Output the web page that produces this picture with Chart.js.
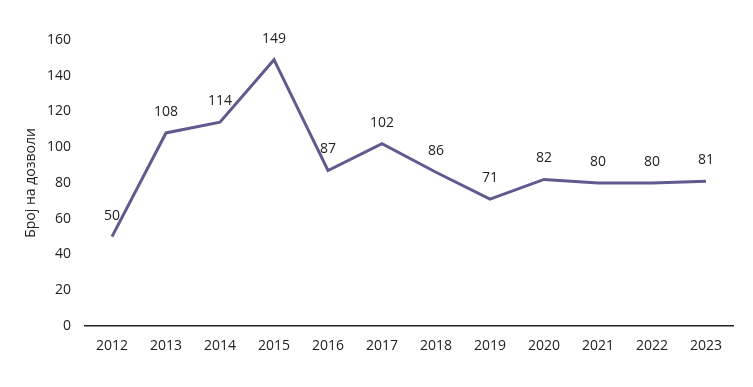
<!DOCTYPE html>
<html><head><meta charset="utf-8">
<script src="https://cdn.jsdelivr.net/npm/chart.js@4"></script>
<style>html,body{margin:0;padding:0;background:#fff}#wrap{width:753px;height:387px}</style>
</head><body><div id="wrap"><canvas id="c"></canvas></div>
<script>
const years = ['2012','2013','2014','2015','2016','2017','2018','2019','2020','2021','2022','2023'];
const permits = [50,108,114,149,87,102,86,71,82,80,80,81];
const yTitle = 'Број на дозволи';

const FONT = "'Open Sans', 'Liberation Sans', sans-serif";
const labelPlugin = {
  id: 'pointLabels',
  afterDatasetsDraw(chart) {
    const ctx = chart.ctx;
    const meta = chart.getDatasetMeta(0);
    ctx.save();
    ctx.font = '14px ' + FONT;
    ctx.fillStyle = '#222';
    ctx.textAlign = 'center';
    ctx.textBaseline = 'middle';
    meta.data.forEach((pt, i) => {
      ctx.fillText(String(permits[i]), pt.x, pt.y - 21);
    });
    ctx.restore();
  }
};

new Chart(document.getElementById('c'), {
  type: 'line',
  data: { labels: years, datasets: [{ data: permits, borderColor: '#5F5B8F', borderWidth: 3, pointRadius: 0, tension: 0, fill: false }] },
  options: {
    responsive: true, maintainAspectRatio: false, animation: false,
    layout: { padding: { left: 0, right: 20, top: 40, bottom: 0 } },
    plugins: { legend: { display: false }, tooltip: { enabled: false } },
    scales: {
      x: {
        offset: true,
        grid: { display: false, drawTicks: false },
        border: { display: true, color: '#222', width: 1.5 },
        ticks: { color: '#222', font: { family: FONT, size: 14 }, padding: 12, maxRotation: 0 },
        afterFit(s) { s.height = 61; }
      },
      y: {
        min: 0, max: 160,
        grid: { display: false, drawTicks: false },
        border: { display: false },
        ticks: { stepSize: 20, color: '#222', font: { family: FONT, size: 14 }, padding: 14 },
        title: { display: true, text: yTitle, color: '#222', font: { family: FONT, size: 14 }, padding: { top: 23, bottom: 0 } },
        afterFit(s) { s.width = 85; }
      }
    }
  },
  plugins: [labelPlugin]
});
</script></body></html>
